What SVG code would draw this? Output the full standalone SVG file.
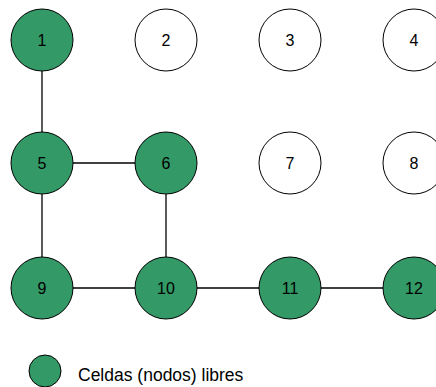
<svg xmlns="http://www.w3.org/2000/svg" width="436" height="387" viewBox="0 0 436 387">
  <style>
    .node { stroke: #000; stroke-width: 1; }
    .free { fill: #339966; }
    .blocked { fill: #ffffff; }
    .label { font-family: "Liberation Sans", Arial, sans-serif; font-size: 16px; fill: #000; text-anchor: middle; dominant-baseline: central; }
    .edge { stroke: #000; stroke-width: 1.3; fill: none; }
    .legend-text { font-family: "Liberation Sans", Arial, sans-serif; font-size: 17.5px; fill: #000; }
  </style>
  <rect width="436" height="387" fill="#ffffff"/>
  <g id="connectors">
    <line class="edge" x1="42" y1="71" x2="42" y2="132"/>
    <line class="edge" x1="73" y1="163" x2="135" y2="163"/>
    <line class="edge" x1="42" y1="194" x2="42" y2="257"/>
    <line class="edge" x1="166" y1="194" x2="166" y2="257"/>
    <line class="edge" x1="73" y1="288" x2="135" y2="288"/>
    <line class="edge" x1="197" y1="288" x2="259" y2="288"/>
    <line class="edge" x1="321" y1="288" x2="383" y2="288"/>
  </g>
  <g id="n1"><circle class="node free" cx="42" cy="40" r="31"/><text class="label" x="42" y="40">1</text></g>
  <g id="n2"><circle class="node blocked" cx="166" cy="40" r="31"/><text class="label" x="166" y="40">2</text></g>
  <g id="n3"><circle class="node blocked" cx="290" cy="40" r="31"/><text class="label" x="290" y="40">3</text></g>
  <g id="n4"><circle class="node blocked" cx="414" cy="40" r="31"/><text class="label" x="414" y="40">4</text></g>
  <g id="n5"><circle class="node free" cx="42" cy="163" r="31"/><text class="label" x="42" y="163">5</text></g>
  <g id="n6"><circle class="node free" cx="166" cy="163" r="31"/><text class="label" x="166" y="163">6</text></g>
  <g id="n7"><circle class="node blocked" cx="290" cy="163" r="31"/><text class="label" x="290" y="163">7</text></g>
  <g id="n8"><circle class="node blocked" cx="414" cy="163" r="31"/><text class="label" x="414" y="163">8</text></g>
  <g id="n9"><circle class="node free" cx="42" cy="288" r="31"/><text class="label" x="42" y="288">9</text></g>
  <g id="n10"><circle class="node free" cx="166" cy="288" r="31"/><text class="label" x="166" y="288">10</text></g>
  <g id="n11"><circle class="node free" cx="290" cy="288" r="31"/><text class="label" x="290" y="288">11</text></g>
  <g id="n12"><circle class="node free" cx="414" cy="288" r="31"/><text class="label" x="414" y="288">12</text></g>
  <g id="legend">
    <circle class="node free" cx="45" cy="371" r="16"/>
    <text class="legend-text" x="78" y="381">Celdas (nodos) libres</text>
  </g>
</svg>
